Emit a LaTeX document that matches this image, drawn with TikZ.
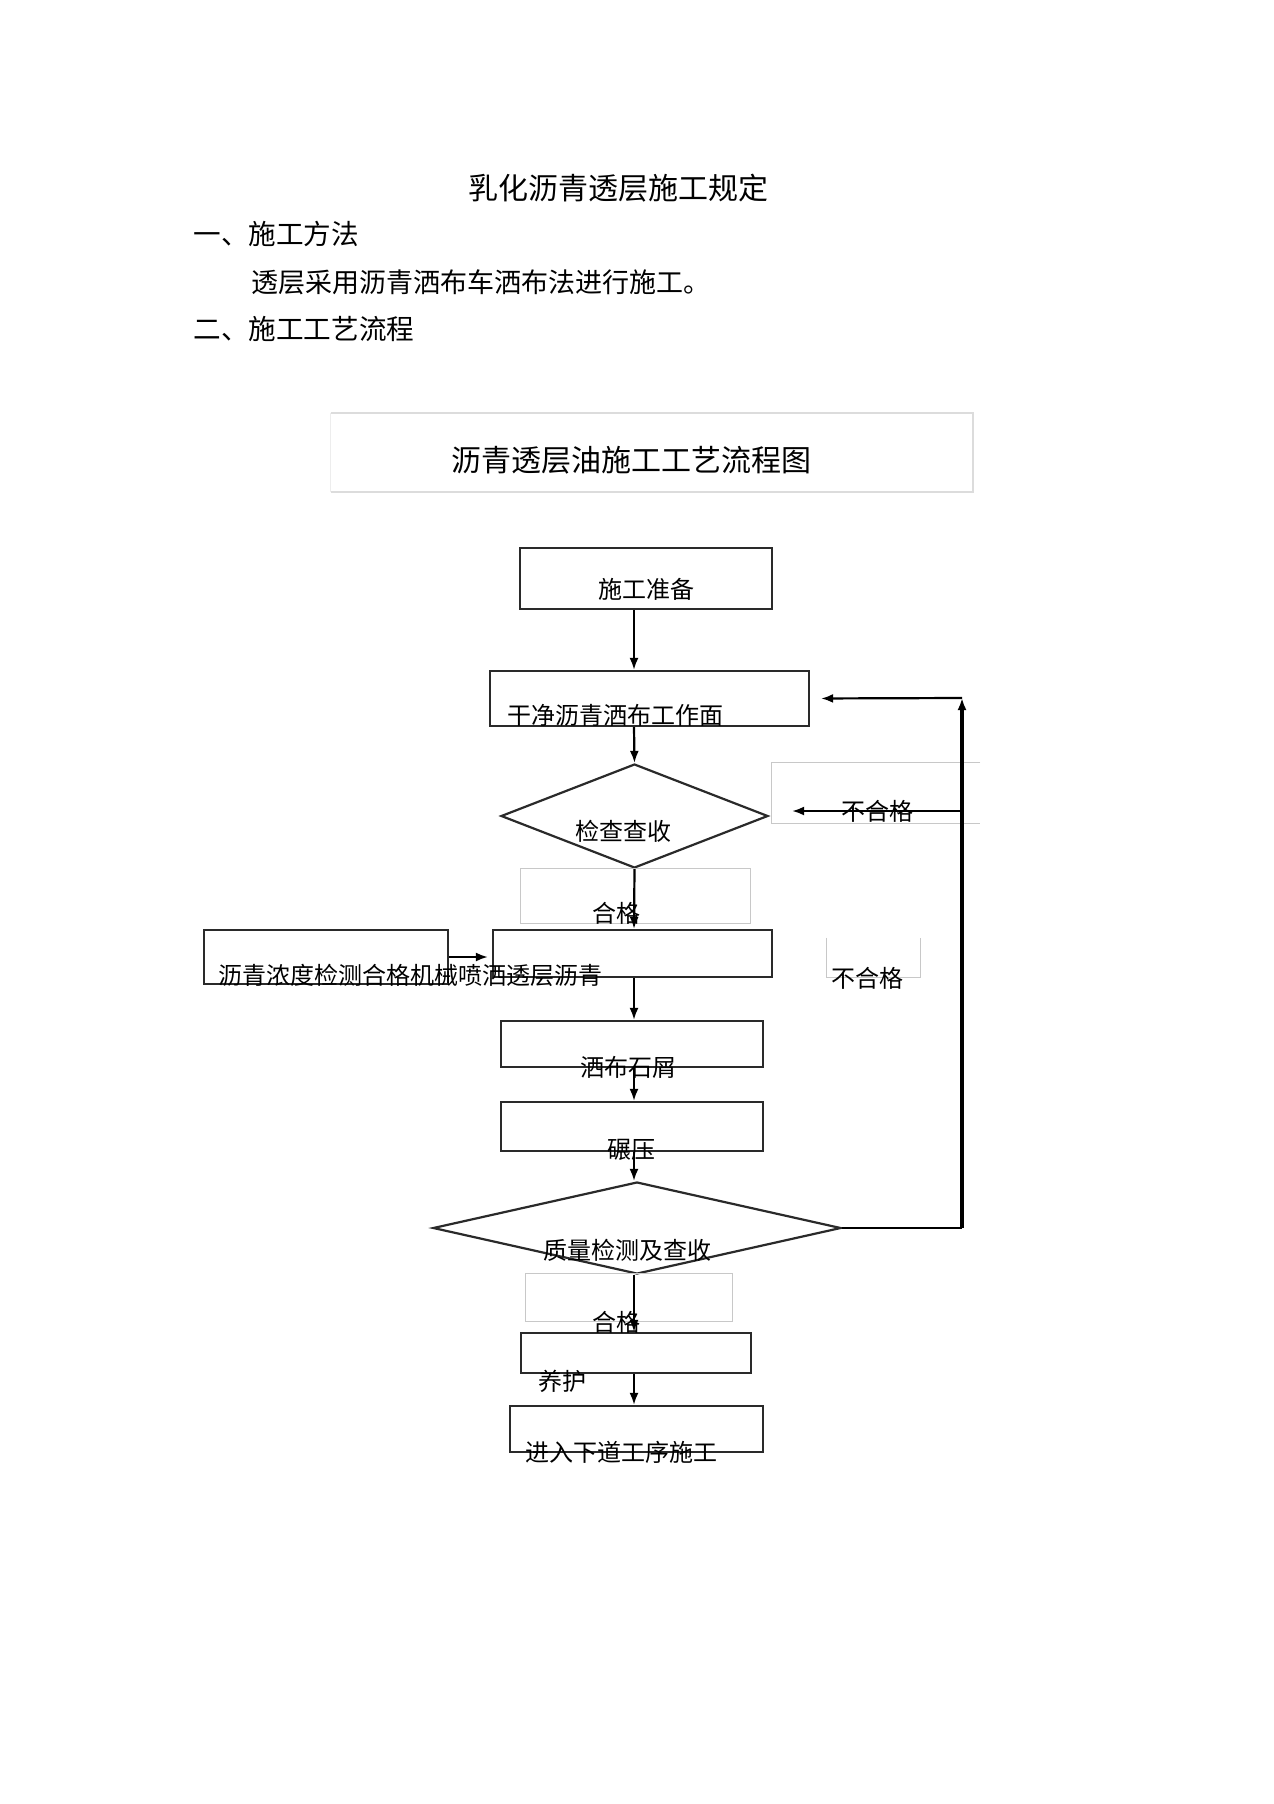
\documentclass[tikz,border=0pt]{standalone}
\usepackage{fontspec}
\setmainfont{Noto Sans CJK SC}
\usepackage{xcolor}
\usepackage{tikz}
\usetikzlibrary{shapes.geometric,arrows.meta}

\definecolor{boxline}{HTML}{2A2A2A}
\definecolor{tagline}{HTML}{C8C8C8}
\definecolor{headline}{HTML}{DCDCDC}

\tikzset{
    box/.style={draw=boxline, line width=1.1pt, inner sep=0pt},
    decision/.style={diamond, draw=boxline, line width=1.1pt, inner sep=0pt},
    tag/.style={inner sep=0pt},
    txt/.style={inner sep=0pt, font=\fontsize{12pt}{14pt}\selectfont},
    arrow/.style={line width=1.1pt, -{Latex[length=6pt,width=4.5pt]}},
}

\begin{document}
\begin{tikzpicture}[x=0.5pt, y=-0.5pt]
        \useasboundingbox (0,0) rectangle (1274,1804);

        % page text
        \node (doctitle) [inner sep=0pt, font=\fontsize{15pt}{18pt}\selectfont] at (618,188) {乳化沥青透层施工规定};
        \node (sec1) [inner sep=0pt, anchor=west, font=\fontsize{13.8pt}{16pt}\selectfont] at (193,234) {一、施工方法};
        \node (body1) [inner sep=0pt, anchor=west, font=\fontsize{13.5pt}{16pt}\selectfont] at (251,282) {透层采用沥青洒布车洒布法进行施工。};
        \node (sec2) [inner sep=0pt, anchor=west, font=\fontsize{13.8pt}{16pt}\selectfont] at (193,329) {二、施工工艺流程};

        % chart heading
        \node (head) [tag, minimum width=321pt, minimum height=39.5pt] at (652,452.5) {};
        \draw [headline, line width=1pt] (head.north west) -- (head.north east) -- (head.south east) -- (head.south west);
        \draw [headline!50, line width=0.5pt] (head.south west) -- (head.north west);
        \node (headtxt) [inner sep=0pt, font=\fontsize{15pt}{18pt}\selectfont] at (631,460) {沥青透层油施工工艺流程图};

        % flow boxes
        \node (prep) [box, minimum width=126pt, minimum height=30.5pt] at (646,578.5) {};
        \node (clean) [box, minimum width=159.5pt, minimum height=27.5pt] at (649.5,698.5) {};
        \node (check) [decision, minimum width=133.5pt, minimum height=52pt] at (634.5,816) {};
        \node (ok1) [tag, draw=tagline, line width=0.5pt, minimum width=115pt, minimum height=27.5pt] at (635,895.5) {};
        \node (test) [box, minimum width=122pt, minimum height=27pt] at (326,957) {};
        \node (spray) [box, minimum width=139.5pt, minimum height=23.5pt] at (632.5,953.5) {};
        \node (chips) [box, minimum width=131pt, minimum height=23pt] at (632,1044) {};
        \node (roll) [box, minimum width=131pt, minimum height=24.5pt] at (632,1126.5) {};
        \node (quality) [decision, minimum width=204pt, minimum height=46pt] at (637,1228) {};
        \node (ok2) [tag, draw=tagline, line width=0.5pt, minimum width=103.5pt, minimum height=24pt] at (628.5,1297) {};
        \node (cure) [box, minimum width=115pt, minimum height=20pt] at (636,1353) {};
        \node (next) [box, minimum width=126.5pt, minimum height=23pt] at (636.5,1429) {};

        % open label frames
        \node (fail1) [tag, minimum width=104pt, minimum height=30pt] at (876,793) {};
        \draw [tagline, line width=0.5pt] (fail1.north east) -- (fail1.north west) -- (fail1.south west) -- (fail1.south east);
        \node (fail2) [tag, minimum width=46.5pt, minimum height=19.5pt] at (873.5,957.5) {};
        \draw [tagline, line width=0.5pt] (fail2.north west) -- (fail2.south west) -- (fail2.south east) -- (fail2.north east);

        % main line
        \coordinate (axis) at (634,0);
        \draw [arrow] (prep.south -| axis) -- (clean.north -| axis);
        \draw [arrow] (clean.south -| axis) -- (check.north);
        \draw [arrow] (check.south) -- (spray.north -| axis);
        \draw [arrow, shorten >=2pt] (test.east) -- (test.east -| spray.west);
        \draw [arrow] (spray.south -| axis) -- (chips.north -| axis);
        \draw [arrow] (chips.south -| axis) -- (roll.north -| axis);
        \draw [arrow] (roll.south -| axis) -- (quality.north -| axis);
        \draw [arrow] (quality.south -| axis) -- (cure.north -| axis);
        \draw [arrow] (cure.south -| axis) -- (next.north -| axis);

        % return loop
        \coordinate (loopbot) at (962,1228);
        \coordinate (looptop) at (962,698);
        \draw [line width=0.9pt] (quality.east) -- (loopbot);
        \draw [arrow, line width=1.6pt] (loopbot) -- (looptop);
        \draw [arrow] (looptop) -- (clean.east) [shorten >=5.5pt];
        \node (fail1txt) [txt] at (877,811) {不合格};
        \draw [arrow] (looptop |- fail1txt) -- (check.east |- fail1txt) [shorten >=11.5pt];

        % labels
        \node (preptxt) [txt] at (646,589) {施工准备};
        \node (cleantxt) [txt] at (615,715) {干净沥青洒布工作面};
        \node (checktxt) [txt] at (623,831) {检查查收};
        \node (ok1txt) [txt] at (616,913) {合格};
        \node (spraytxt) [txt] at (410.5,975) {沥青浓度检测合格机械喷洒透层沥青};
        \node (fail2txt) [txt] at (867,978) {不合格};
        \node (chipstxt) [txt] at (628,1067) {洒布石屑};
        \node (rolltxt) [txt] at (631,1150) {碾压};
        \node (qualitytxt) [txt] at (627,1250) {质量检测及查收};
        \node (ok2txt) [txt] at (616,1322) {合格};
        \node (curetxt) [txt] at (562,1381) {养护};
        \node (nexttxt) [txt] at (621,1452) {进入下道工序施工};
    \end{tikzpicture}
\end{document}
